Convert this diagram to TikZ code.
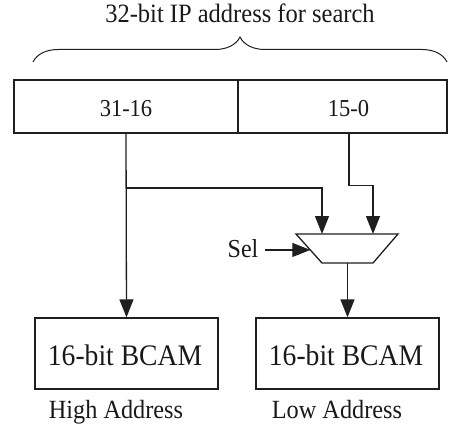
\documentclass[tikz,border=0pt]{standalone}
\usepackage{graphicx}
\usepackage{fontspec}
\setmainfont{Liberation Serif}
\usetikzlibrary{arrows.meta,decorations.pathreplacing,calc}

% slightly tall lettering
\newcommand\tallt[1]{\scalebox{1}[1.08]{#1}}

\tikzset{
  ink/.style={draw=black!88, line width=1.3pt},
  field/.style={ink, rectangle, minimum height=53pt, inner sep=0pt},
  bcam/.style={ink, rectangle, minimum width=183pt, minimum height=71pt, inner sep=0pt},
  txt/.style={inner sep=0pt, anchor=base, text=black!90},
  arr/.style={ink, -{Triangle[length=18pt,width=14pt]}},
}

\begin{document}
\begin{tikzpicture}[x=1pt,y=-1pt]
  \useasboundingbox (0,0) rectangle (461,428);

  % search key and the brace spanning it
  \node[txt, font=\fontsize{24.5}{24.5}\selectfont] (title) at (240,22.5) {\tallt{32-bit IP address for search}};
  \draw[ink, line width=1pt, decorate, decoration={brace, amplitude=25pt}] (33,62) -- (447,62);

  % the two halves of the address
  \node[field, minimum width=224pt] (hi) at (126,106.5) {};
  \node[field, minimum width=209pt] (lo) at (342.5,106.5) {};
  \node[txt, font=\fontsize{22.5}{22.5}\selectfont] (hitxt) at (126,117) {\tallt{31-16}};
  \node[txt, font=\fontsize{22.5}{22.5}\selectfont] (lotxt) at (348.5,117) {\tallt{15-0}};

  % multiplexer: wide side on top, narrow output side below
  \coordinate (muxTL) at (296,234);
  \coordinate (muxTR) at (398,234);
  \coordinate (muxBR) at (373,263);
  \coordinate (muxBL) at (322,263);
  \draw[ink, line join=miter] (muxTL) -- (muxTR) -- (muxBR) -- (muxBL) -- cycle;
  \coordinate (in1) at (322,234);
  \coordinate (in2) at (373,234);
  \coordinate (muxsel) at ($(muxTL)!0.55!(muxBL)$);
  \coordinate (muxout) at ($(muxBL)!0.5!(muxBR)$);

  \node[txt, font=\fontsize{24}{24}\selectfont] (sel) at (243,257) {\tallt{Sel}};

  % CAM blocks
  \node[bcam] (bcamH) at (126.5,353.5) {};
  \node[bcam] (bcamL) at (347.5,353.5) {};
  \node[txt, font=\fontsize{27.6}{27.6}\selectfont] (bcamHtxt) at (125,365) {\tallt{16-bit BCAM}};
  \node[txt, font=\fontsize{27.6}{27.6}\selectfont] (bcamLtxt) at (346,365) {\tallt{16-bit BCAM}};
  \node[txt, font=\fontsize{24.3}{24.3}\selectfont] (hiaddr) at (116,418) {\tallt{High Address}};
  \node[txt, font=\fontsize{24.3}{24.3}\selectfont] (loaddr) at (337,418) {\tallt{Low Address}};

  % connections
  \draw[arr] (hi.south) -- (bcamH.north);
  \draw[arr] (hi.south |- 0,188) -| (in1);
  \draw[arr] ([xshift=6.5pt]lo.south) -- ++(0,52) -| (in2);
  \draw[arr] (sel.east |- muxsel) ++(6pt,0) -- (muxsel);
  \draw[arr] (muxout) -- (bcamL.north);
\end{tikzpicture}
\end{document}
